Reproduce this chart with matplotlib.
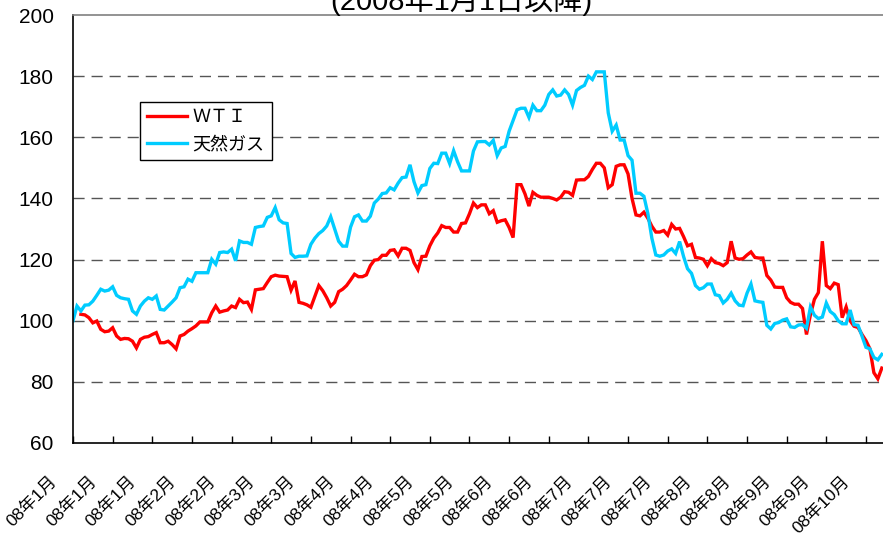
import matplotlib
matplotlib.use("Agg")
import matplotlib.pyplot as plt
import matplotlib.transforms as mtransforms
import numpy as np

plt.rcParams['font.family'] = ['Liberation Sans', 'Noto Sans CJK JP', 'DejaVu Sans']

# index values (2008/1/1 = 100), trading days
gas = [100, 104.8, 103.2, 105.1, 105.2, 106.4, 108.3, 110.3, 109.7, 110,
       111.1, 108.3, 107.5, 107.2, 107, 103.2, 102.1, 104.8, 106.4, 107.5,
       107, 108.1, 103.7, 103.5, 104.8, 106.1, 107.5, 110.8, 111.1, 113.6,
       112.9, 115.7, 115.7, 115.7, 115.7, 120.1, 118.5, 122.3, 122.5, 122.3,
       123.4, 119.6, 126.1, 125.6, 125.6, 125, 130.5, 130.8, 131, 133.8,
       134.3, 137, 133, 132, 131.8, 122, 120.7, 121.1, 121.1, 121.2,
       125, 127, 128.5, 129.5, 131, 134, 130, 126, 124.4, 124.4,
       130.6, 134, 134.6, 132.6, 132.6, 134.2, 138.5, 139.8, 141.6, 141.8,
       143.5, 142.8, 145, 146.8, 147, 151, 145.5, 141.8, 144.2, 144.5,
       149.8, 151.5, 151.4, 154.8, 154.8, 151.4, 155.6, 152, 149, 149,
       149, 155.5, 158.5, 158.6, 158.6, 157.5, 159, 154, 156.5, 157,
       162, 165.5, 169, 169.5, 169.5, 166.5, 170.5, 168.7, 168.7, 170.5,
       174, 175.5, 173.5, 173.8, 175.5, 174, 170.5, 175.3, 176.3, 177,
       180, 178.9, 181.4, 181.4, 181.4, 168, 162, 164, 159.1, 159.1,
       154, 152.5, 141.7, 141.7, 140.7, 135, 127, 121.5, 121.1, 121.5,
       122.8, 123.5, 122, 125.9, 121, 117, 115.5, 111.5, 110.3, 110.8,
       112, 112, 108.5, 108.2, 105.8, 107, 109, 106.5, 105.1, 104.9,
       109, 112, 106.5, 106.2, 106, 98.5, 97.3, 99.1, 99.4, 100.2,
       100.6, 98, 97.8, 98.6, 98.7, 97.5, 104.5, 101.8, 100.7, 101.2,
       105.8, 103, 102, 100, 99, 99, 103.5, 98.7, 98.5, 95,
       91.3, 90.8, 88, 87.2, 89]

wti = [np.nan, np.nan, 102.1, 101.9, 101, 99.3, 99.9, 97.2, 96.4, 96.6,
       97.7, 95, 93.9, 94.2, 94.1, 93.3, 91.1, 93.9, 94.6, 94.8,
       95.5, 96.1, 92.8, 92.8, 93.3, 92.2, 90.8, 95, 95.5, 96.6,
       97.4, 98.3, 99.6, 99.6, 99.6, 102.6, 104.8, 102.8, 103.2, 103.5,
       104.8, 104.3, 107, 105.9, 106.1, 103.7, 110.1, 110.3, 110.5, 112.5,
       114.4, 114.9, 114.6, 114.5, 114.4, 110, 113, 106, 105.7, 105.2,
       104.4, 108, 111.5, 109.8, 107.5, 104.8, 106, 109.5, 110.3, 111.5,
       113.3, 115.2, 114.4, 114.4, 115, 118, 119.8, 120, 121.4, 121.4,
       123, 123.2, 121.2, 123.7, 123.7, 123, 119, 116.7, 121, 121.1,
       124.5, 127, 128.7, 131.1, 130.5, 130.5, 129, 129, 131.8, 132,
       135, 138.5, 137, 137.9, 137.9, 135, 136, 132.2, 132.7, 133,
       130.5, 127.2, 144.5, 144.5, 141.5, 137.5, 142, 141, 140.4, 140.4,
       140.4, 140, 139.5, 140.4, 142.2, 142, 141, 146, 146.1, 146.1,
       147.2, 149.5, 151.5, 151.5, 150, 143.5, 144.5, 150.5, 151, 151,
       148, 140, 134.6, 134.3, 135.5, 133.5, 130.9, 129, 129, 129.5,
       128, 131.5, 130, 130.2, 127.5, 124.5, 125, 120.7, 120.5, 120.1,
       118, 120.3, 119, 118.7, 118, 119, 126, 120.5, 120.1, 120.3,
       121.5, 122.5, 120.7, 120.5, 120.5, 114.8, 113.3, 111, 110.9, 110.9,
       107.5, 106, 105.4, 105.4, 104, 95.5, 102, 107, 109.2, 126,
       111.5, 110.5, 112.3, 111.8, 101, 104.5, 100, 98.2, 97.8, 95.5,
       93.5, 90.8, 83, 81, 84.5]

tick_labels = ['08年1月', '08年1月', '08年1月', '08年2月', '08年2月', '08年3月',
               '08年3月', '08年4月', '08年4月', '08年5月', '08年5月', '08年6月',
               '08年6月', '08年7月', '08年7月', '08年7月', '08年8月', '08年8月',
               '08年9月', '08年9月', '08年10月']

fig = plt.figure(figsize=(8.83, 5.35), dpi=100)
ax = fig.add_axes([73/883, 1-443/535, 810/883, 428/535])

x = np.arange(len(gas))
ax.plot(x, wti, color='#FF0000', lw=2.4, label='ＷＴＩ', solid_joinstyle='miter')
ax.plot(x, gas, color='#00CCFF', lw=2.4, label='天然ガス', solid_joinstyle='miter')

ax.set_xlim(0, 204.3)
ax.set_ylim(60, 200)
ax.set_yticks(range(60, 201, 20))
for v in range(80, 200, 20):
    ax.axhline(v, color='#555555', lw=1.0, ls=(0, (8, 5)), zorder=0)

ax.set_xticks(np.arange(0, 201, 10))
ax.set_xticklabels(tick_labels, rotation=45, ha='right', va='top',
                   rotation_mode='anchor', fontsize=12.5)
ax.tick_params(axis='x', direction='in', length=5, width=1, pad=22)
ax.tick_params(axis='y', length=0, pad=14, labelsize=15)

off = mtransforms.ScaledTranslation(-24/100, 0, fig.dpi_scale_trans)
for lab in ax.get_xticklabels():
    lab.set_transform(lab.get_transform() + off)

ax.spines['right'].set_visible(False)
ax.spines['top'].set_color('#808080')
ax.spines['top'].set_linewidth(1.2)
ax.spines['left'].set_linewidth(1.2)
ax.spines['bottom'].set_linewidth(1.2)

leg = ax.legend(loc='upper left', bbox_to_anchor=(140/883, 1-102/535),
                bbox_transform=fig.transFigure, fontsize=13, frameon=True,
                fancybox=False, edgecolor='black', framealpha=1,
                borderaxespad=0, handlelength=2.2, borderpad=0.4,
                labelspacing=0.55, handletextpad=0.3)
leg.get_frame().set_linewidth(1.0)

fig.text(0.523, 1-10/535, '(2008年1月1日以降)', ha='center', va='baseline',
         fontsize=21)

fig.savefig('out.png', dpi=100)
